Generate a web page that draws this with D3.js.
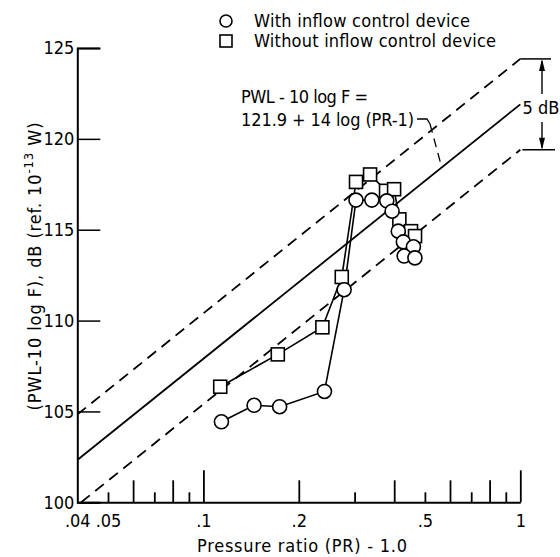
<!DOCTYPE html>
<html>
<head>
  <meta charset="UTF-8">
  <style>
    body { margin: 0; background: #fff; }
    svg { display: block; }
    text { font-family: "DejaVu Sans Condensed", "Liberation Sans Narrow", "Liberation Sans", sans-serif; fill: #000; }
  </style>
</head>
<body>
<svg></svg>
<script src="https://d3js.org/d3.v7.min.js"></script>

<script>

let width = 560, height = 557;

// pressure ratio (PR) - 1.0, and PWL - 10 log F in dB
let circleX = [0.114, 0.1445, 0.174, 0.241, 0.278, 0.303, 0.340, 0.379, 0.394, 0.412, 0.4275, 0.46, 0.43, 0.465];
let circleY = [104.43, 105.34, 105.26, 106.1, 111.7, 116.63, 116.63, 116.59, 116.02, 114.92, 114.33, 114.06, 113.55, 113.45];
let squareX = [0.113, 0.1717, 0.2374, 0.2733, 0.3031, 0.3357, 0.377, 0.3997, 0.4153, 0.452, 0.4654];
let squareY = [106.36, 108.14, 109.63, 112.4, 117.63, 118.04, 117.14, 117.23, 115.57, 114.92, 114.65];

// correlation line 121.9 + 14 log(PR-1), band +/- 2.5 dB
let lineStart = 0.04, lineEnd = 1;
let bandHalf = 2.5;

let xLabelTicks = [0.04, 0.05, 0.1, 0.2, 0.5, 1];
let xLabelText = [".04", ".05", ".1", ".2", ".5", "1"];
let xMajorTicks = [0.1, 1];
let xMidTicks = [0.06, 0.08, 0.2, 0.4, 0.6, 0.8];
let xMinorTicks = [0.05, 0.07, 0.09, 0.3, 0.5, 0.7, 0.9];
let yTicks = [100, 105, 110, 115, 120, 125];

let svg = d3.select("svg")
    .attr("width", width)
    .attr("height", height)

let x = d3.scaleLog().domain([0.04, 1]).range([77.3, 520.3]);
let y = d3.scaleLinear().domain([100, 125]).range([502.3, 48]);

function corr(v, off) { return 121.9 + 14 * Math.log10(v) + off; }

// x axis tick marks (three heights, pointing up)
function tickGroup(vals, size) {
    let g = svg.append("g")
        .attr("transform", "translate(0," + y(100) + ")")
        .call(d3.axisBottom(x).tickValues(vals).tickSize(-size).tickFormat(""));
    g.select(".domain").remove();
    g.selectAll("line").attr("stroke", "#000").attr("stroke-width", 1.8);
}
tickGroup(xMajorTicks, 32);
tickGroup(xMidTicks, 22);
tickGroup(xMinorTicks, 10);

let xAxis = svg.append("g")
    .attr("transform", "translate(0," + y(100) + ")")
    .call(d3.axisBottom(x).tickValues(xLabelTicks).tickSize(0).tickPadding(12)
        .tickFormat((d, i) => xLabelText[i]));
xAxis.select(".domain").attr("stroke", "#000").attr("stroke-width", 2);
xAxis.selectAll("text").attr("font-size", 18).attr("font-family", null);

// y axis
let yAxis = svg.append("g")
    .attr("transform", "translate(" + x(0.04) + ",0)")
    .call(d3.axisLeft(y).tickValues(yTicks).tickSize(-23).tickPadding(3));
yAxis.select(".domain").attr("stroke", "#000").attr("stroke-width", 2);
yAxis.selectAll("line").attr("stroke", "#000").attr("stroke-width", 1.5);
yAxis.selectAll("text").attr("font-size", 18).attr("font-family", null);

// correlation lines
let lowStart = Math.pow(10, (100 - 121.9 + bandHalf) / 14);
let bands = [
    { off: 0, from: lineStart, dash: null },
    { off: bandHalf, from: lineStart, dash: "11,7" },
    { off: -bandHalf, from: lowStart, dash: "11,7" }
];
bands.forEach(b => {
    svg.append("line")
        .attr("x1", x(b.from)).attr("y1", y(corr(b.from, b.off)))
        .attr("x2", x(lineEnd)).attr("y2", y(corr(lineEnd, b.off)))
        .attr("stroke", "#000").attr("stroke-width", 1.8)
        .attr("stroke-dasharray", b.dash);
});

// data lines
let circles = circleX.map((v, i) => [v, circleY[i]]);
let squares = squareX.map((v, i) => [v, squareY[i]]);
let line = d3.line().x(d => x(d[0])).y(d => y(d[1]));

svg.append("path").datum(squares).attr("d", line)
    .attr("fill", "none").attr("stroke", "#000").attr("stroke-width", 1.6);
svg.append("path").datum(circles).attr("d", line)
    .attr("fill", "none").attr("stroke", "#000").attr("stroke-width", 1.6);

svg.append("g").selectAll("rect")
    .data(squares)
    .enter()
    .append("rect")
    .attr("x", d => x(d[0]) - 6.5)
    .attr("y", d => y(d[1]) - 6.5)
    .attr("width", 13).attr("height", 13)
    .attr("fill", "#fff").attr("stroke", "#000").attr("stroke-width", 1.6);

svg.append("g").selectAll("circle")
    .data(circles)
    .enter()
    .append("circle")
    .attr("cx", d => x(d[0]))
    .attr("cy", d => y(d[1]))
    .attr("r", 7)
    .attr("fill", "#fff").attr("stroke", "#000").attr("stroke-width", 1.6);

// legend
svg.append("circle").attr("cx", 226).attr("cy", 21).attr("r", 6)
    .attr("fill", "#fff").attr("stroke", "#000").attr("stroke-width", 1.6);
svg.append("rect").attr("x", 220).attr("y", 35).attr("width", 12).attr("height", 12)
    .attr("fill", "#fff").attr("stroke", "#000").attr("stroke-width", 1.6);
svg.append("text").attr("x", 254).attr("y", 27).attr("font-size", 18)
    .attr("textLength", 216).attr("lengthAdjust", "spacing")
    .text("With inflow control device");
svg.append("text").attr("x", 254).attr("y", 47).attr("font-size", 18)
    .attr("textLength", 242).attr("lengthAdjust", "spacing")
    .text("Without inflow control device");

// formula label with leader
svg.append("text").attr("x", 241).attr("y", 103).attr("font-size", 18)
    .attr("textLength", 127).attr("lengthAdjust", "spacing")
    .text("PWL - 10 log F =");
svg.append("text").attr("x", 241).attr("y", 126).attr("font-size", 18)
    .attr("textLength", 173).attr("lengthAdjust", "spacing")
    .text("121.9 + 14 log (PR-1)");
let leadX = 0.565;
svg.append("path")
    .attr("d", "M417,119 H427 L430,124")
    .attr("fill", "none").attr("stroke", "#000").attr("stroke-width", 1.3);
svg.append("line")
    .attr("x1", 430).attr("y1", 124)
    .attr("x2", x(leadX)).attr("y2", y(corr(leadX, 0)))
    .attr("stroke", "#000").attr("stroke-width", 1.3).attr("stroke-dasharray", "9,6");

// 5 dB bracket
let topY = y(corr(lineEnd, bandHalf)), botY = y(corr(lineEnd, -bandHalf));
let ax = 542;
svg.append("line").attr("x1", x(lineEnd)).attr("x2", 551).attr("y1", topY).attr("y2", topY)
    .attr("stroke", "#000").attr("stroke-width", 1.5);
svg.append("line").attr("x1", x(lineEnd) + 2).attr("x2", 555).attr("y1", botY).attr("y2", botY)
    .attr("stroke", "#000").attr("stroke-width", 1.5);
svg.append("line").attr("x1", ax).attr("x2", ax).attr("y1", topY + 2).attr("y2", 94)
    .attr("stroke", "#000").attr("stroke-width", 1.4);
svg.append("line").attr("x1", ax).attr("x2", ax).attr("y1", 122).attr("y2", botY - 2)
    .attr("stroke", "#000").attr("stroke-width", 1.4);
svg.append("path").attr("d", `M${ax},${topY} l-3,12 h6 Z`).attr("fill", "#000");
svg.append("path").attr("d", `M${ax},${botY} l-3,-12 h6 Z`).attr("fill", "#000");
svg.append("text").attr("x", 541).attr("y", 114).attr("font-size", 18)
    .attr("text-anchor", "middle").text("5 dB");

// axis titles
svg.append("text").attr("x", 197).attr("y", 552).attr("font-size", 18)
    .attr("textLength", 210).attr("lengthAdjust", "spacing")
    .text("Pressure ratio (PR) - 1.0");
let yt = svg.append("text").attr("font-size", 18)
    .attr("text-anchor", "middle")
    .attr("letter-spacing", 0.9)
    .attr("transform", "translate(41,266) rotate(-90)");
yt.append("tspan").text("(PWL-10 log F), dB (ref. 10");
yt.append("tspan").attr("font-size", 13).attr("dy", -8).text("-13");
yt.append("tspan").attr("dy", 8).text(" W)");

</script>

</body>
</html>
